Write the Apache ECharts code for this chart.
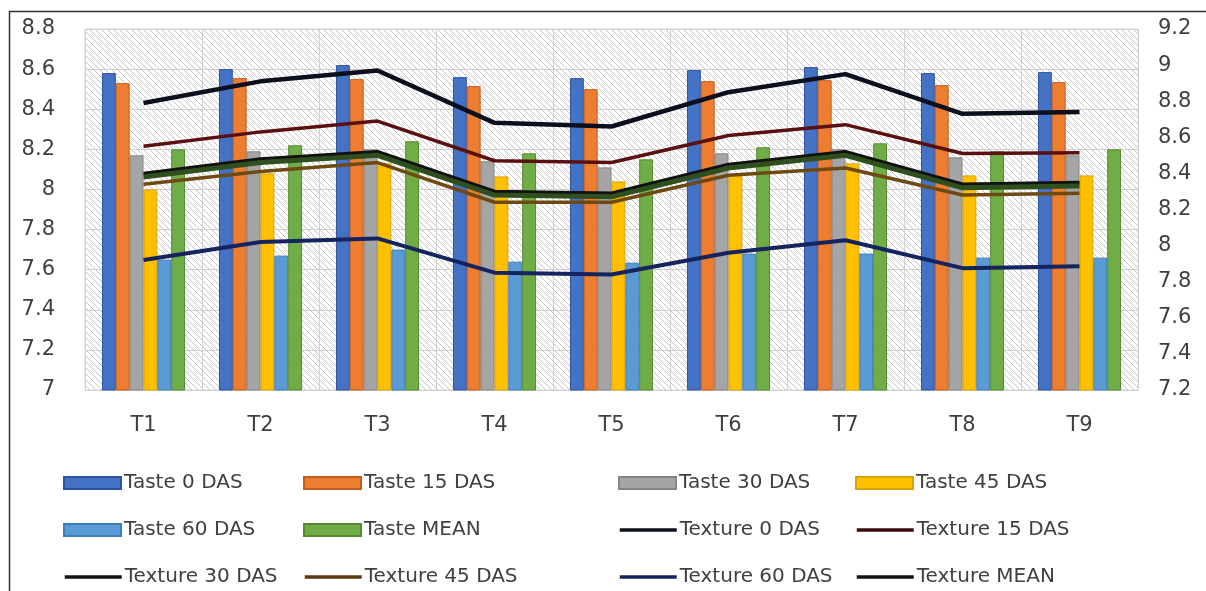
<!DOCTYPE html>
<html><head><meta charset="utf-8">
<script src="https://cdn.jsdelivr.net/npm/echarts@6/dist/echarts.min.js"></script>
<style>html,body{margin:0;padding:0;background:#fff}#c{width:1206px;height:591px}</style>
</head><body><div id="c"></div>
<script>
const categories = ['T1','T2','T3','T4','T5','T6','T7','T8','T9'];
const taste0  = [8.58, 8.60, 8.62, 8.56, 8.555, 8.595, 8.61, 8.58, 8.585];
const taste15 = [8.53, 8.555, 8.55, 8.515, 8.50, 8.54, 8.545, 8.52, 8.535];
const taste30 = [8.17, 8.19, 8.20, 8.14, 8.11, 8.18, 8.20, 8.16, 8.17];
const taste45 = [8.00, 8.08, 8.13, 8.065, 8.04, 8.07, 8.13, 8.07, 8.07];
const taste60 = [7.65, 7.67, 7.70, 7.64, 7.635, 7.68, 7.68, 7.66, 7.66];
const tasteMean = [8.20, 8.22, 8.24, 8.18, 8.15, 8.21, 8.23, 8.19, 8.20];
const texture0  = [8.79, 8.91, 8.97, 8.68, 8.66, 8.85, 8.95, 8.73, 8.74];
const texture15 = [8.55, 8.63, 8.69, 8.47, 8.46, 8.61, 8.67, 8.51, 8.515];
const texture30 = [8.40, 8.48, 8.52, 8.30, 8.29, 8.45, 8.52, 8.34, 8.35];
const texture45 = [8.34, 8.41, 8.46, 8.24, 8.24, 8.39, 8.43, 8.28, 8.29];
const texture60 = [7.92, 8.02, 8.04, 7.85, 7.84, 7.96, 8.03, 7.875, 7.885];
const textureMean = [8.38, 8.46, 8.50, 8.28, 8.27, 8.43, 8.50, 8.32, 8.33];
const leftTicks = {min: 7, max: 8.8, interval: 0.2};
const rightTicks = {min: 7.2, max: 9.2, interval: 0.2};

const FONT = 'DejaVu Sans';
const TXT = '#404040';

// hatch pattern
const pc = document.createElement('canvas');
const S = 6;
pc.width = S; pc.height = S;
const pctx = pc.getContext('2d');
pctx.fillStyle = '#ffffff'; pctx.fillRect(0,0,S,S);
pctx.strokeStyle = '#c4c4c4'; pctx.lineWidth = 1;
for (let x = -S; x <= S; x += S) { pctx.beginPath(); pctx.moveTo(x,0); pctx.lineTo(x+S,S); pctx.stroke(); }

const barDefs = [
  ['Taste 0 DAS', taste0, '#4472C4', '#2f52a0'],
  ['Taste 15 DAS', taste15, '#ED7D31', '#c25e1c'],
  ['Taste 30 DAS', taste30, '#A5A5A5', '#858585'],
  ['Taste 45 DAS', taste45, '#FFC000', '#d9a300'],
  ['Taste 60 DAS', taste60, '#5B9BD5', '#3f7db8'],
  ['Taste MEAN', tasteMean, '#70AD47', '#558a33']
];
const lineDefs = [
  ['Texture 0 DAS', texture0, '#0b0f1e', 4.5, '#0b0f1e'],
  ['Texture 15 DAS', texture15, '#5a1010', 3.5, '#3a0c0c'],
  ['Texture 30 DAS', texture30, '#111111', 3.5, '#111111'],
  ['Texture 45 DAS', texture45, '#6e4a12', 3.5, '#5a3a10'],
  ['Texture 60 DAS', texture60, '#15235e', 4, '#15235e'],
  ['Texture MEAN', textureMean, '#2f4f1f', 5, '#111111']
];

const series = [];
barDefs.forEach(d => series.push({
  name: d[0], type: 'bar', yAxisIndex: 0, data: d[1],
  barGap: '0%', barCategoryGap: '29%',
  itemStyle: {color: d[2], borderColor: d[3], borderWidth: 1}
}));
lineDefs.forEach(d => series.push({
  name: d[0], type: 'line', yAxisIndex: 1, data: d[1],
  symbol: 'none', lineStyle: {color: d[2], width: d[3]}, itemStyle: {color: d[2]}
}));

const legendOrder = [
  ['Taste 0 DAS','Taste 15 DAS','Taste 30 DAS','Taste 45 DAS'],
  ['Taste 60 DAS','Taste MEAN','Texture 0 DAS','Texture 15 DAS'],
  ['Texture 30 DAS','Texture 45 DAS','Texture 60 DAS','Texture MEAN']
];
const colX = [63, 303, 618, 855];
const rowY = [473, 520, 567];
const legends = [];
legendOrder.forEach((row, r) => row.forEach((name, c) => {
  const isBar = name.startsWith('Taste');
  const item = {name: name};
  if (isBar) { item.icon = 'rect'; }
  else {
    const ld = lineDefs.find(l => l[0] === name);
    item.lineStyle = {color: ld[4], width: 3.5};
    item.itemStyle = {color: ld[4], opacity: 0, borderWidth: 0};
  }
  legends.push({
    data: [item], left: colX[c], top: rowY[r], padding: 0,
    itemWidth: 57, itemHeight: 12, itemGap: 0, selectedMode: false,
    textStyle: {fontFamily: FONT, fontSize: 20, color: TXT, lineHeight: 20, padding: [0,0,0,-2]}
  });
}));

const chart = echarts.init(document.getElementById('c'), null, {renderer: 'canvas'});
chart.setOption({
  animation: false,
  backgroundColor: '#ffffff',
  grid: {left: 85, right: 68, top: 29, bottom: 201, show: true,
         backgroundColor: {image: pc, repeat: 'repeat'}, borderColor: '#d9d9d9', borderWidth: 1},
  legend: legends,
  xAxis: {
    type: 'category', data: categories, boundaryGap: true,
    axisLine: {show: true, lineStyle: {color: '#d0d0d0'}},
    axisTick: {show: false},
    splitLine: {show: true, lineStyle: {color: '#d0d0d0', width: 1}},
    axisLabel: {fontFamily: FONT, fontSize: 21, color: TXT, margin: 25}
  },
  yAxis: [
    {type: 'value', min: leftTicks.min, max: leftTicks.max, interval: leftTicks.interval,
     axisLine: {show: false}, axisTick: {show: false},
     splitLine: {show: true, lineStyle: {color: '#d0d0d0', width: 1}},
     axisLabel: {fontFamily: FONT, fontSize: 21, color: TXT, margin: 30}},
    {type: 'value', min: rightTicks.min, max: rightTicks.max, interval: rightTicks.interval,
     axisLine: {show: false}, axisTick: {show: false}, splitLine: {show: false},
     axisLabel: {fontFamily: FONT, fontSize: 21, color: TXT, margin: 20}}
  ],
  graphic: [{type: 'rect', shape: {x: 9.5, y: 11.5, width: 1250, height: 650},
             style: {fill: 'none', stroke: '#333333', lineWidth: 1.5}, z: 100, silent: true}],
  series: series
});
</script></body></html>
